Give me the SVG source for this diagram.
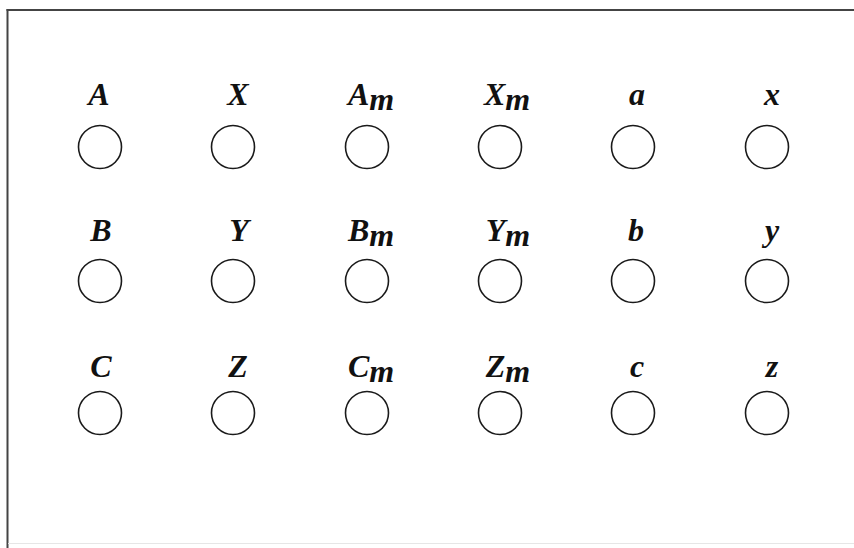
<svg xmlns="http://www.w3.org/2000/svg" width="854" height="548" viewBox="0 0 854 548">
<style>
.node circle{fill:none;stroke:#1a1a1a;stroke-width:1.6}
.node text{font-family:"Liberation Serif","Times New Roman",serif;font-style:italic;font-weight:bold;font-size:32px;fill:#111;text-anchor:middle}
</style>
<rect width="854" height="548" fill="#fff"/>
<g id="frame">
<line x1="7.5" y1="9" x2="7.5" y2="548" stroke="#444" stroke-width="2"/>
<line x1="6.5" y1="10" x2="854" y2="10" stroke="#444" stroke-width="2"/>
<line x1="8" y1="543.5" x2="854" y2="543.5" stroke="#e6e6e6" stroke-width="1"/>
</g>
<g id="connectors"></g>
<g id="A" class="node"><text x="99" y="105">A</text><circle cx="100" cy="147" r="21.5"/></g>
<g id="X" class="node"><text x="238" y="105">X</text><circle cx="233" cy="147" r="21.5"/></g>
<g id="Am" class="node"><text x="371" y="105">A<tspan dy="5">m</tspan></text><circle cx="367" cy="147" r="21.5"/></g>
<g id="Xm" class="node"><text x="507" y="105">X<tspan dy="5">m</tspan></text><circle cx="500" cy="147" r="21.5"/></g>
<g id="a" class="node"><text x="637" y="105">a</text><circle cx="633" cy="147" r="21.5"/></g>
<g id="x" class="node"><text x="772" y="105">x</text><circle cx="767" cy="147" r="21.5"/></g>
<g id="B" class="node"><text x="101" y="241">B</text><circle cx="100" cy="281" r="21.5"/></g>
<g id="Y" class="node"><text x="239" y="241">Y</text><circle cx="233" cy="281" r="21.5"/></g>
<g id="Bm" class="node"><text x="371" y="241">B<tspan dy="5">m</tspan></text><circle cx="367" cy="281" r="21.5"/></g>
<g id="Ym" class="node"><text x="508" y="241">Y<tspan dy="5">m</tspan></text><circle cx="500" cy="281" r="21.5"/></g>
<g id="b" class="node"><text x="636" y="241">b</text><circle cx="633" cy="281" r="21.5"/></g>
<g id="y" class="node"><text x="772" y="241">y</text><circle cx="767" cy="281" r="21.5"/></g>
<g id="C" class="node"><text x="101" y="377">C</text><circle cx="100" cy="413" r="21.5"/></g>
<g id="Z" class="node"><text x="238" y="377">Z</text><circle cx="233" cy="413" r="21.5"/></g>
<g id="Cm" class="node"><text x="371" y="377">C<tspan dy="5">m</tspan></text><circle cx="367" cy="413" r="21.5"/></g>
<g id="Zm" class="node"><text x="508" y="377">Z<tspan dy="5">m</tspan></text><circle cx="500" cy="413" r="21.5"/></g>
<g id="c" class="node"><text x="637" y="377">c</text><circle cx="633" cy="413" r="21.5"/></g>
<g id="z" class="node"><text x="772" y="377">z</text><circle cx="767" cy="413" r="21.5"/></g>
</svg>
